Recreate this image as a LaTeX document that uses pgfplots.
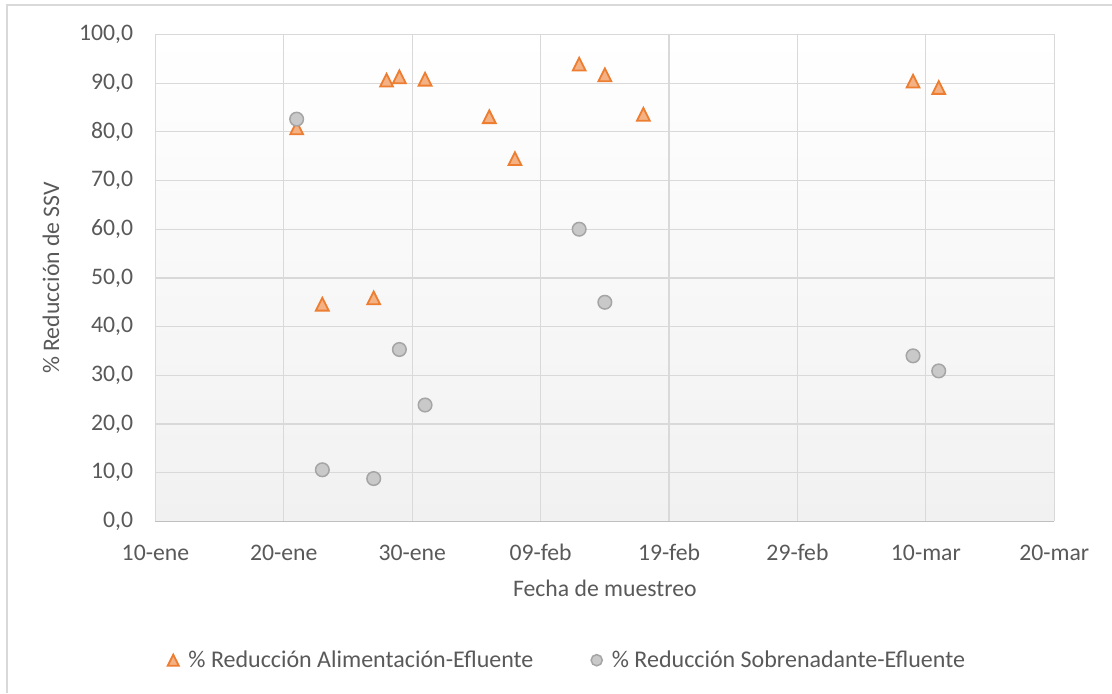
\documentclass[border=0pt]{standalone}
\usepackage{pgfplots}
\pgfplotsset{compat=1.18}
\usepackage{fontspec}
\setmainfont{Carlito}
\definecolor{txt}{HTML}{595959}
\definecolor{gridc}{HTML}{D9D9D9}
\definecolor{axl}{HTML}{BFBFBF}
\definecolor{orng}{HTML}{ED7D31}
\definecolor{orngfill}{HTML}{F4B183}
\definecolor{gryline}{HTML}{A5A5A5}
\definecolor{gryfill}{HTML}{C9C9C9}
\definecolor{bgbot}{HTML}{F1F1F1}
\newcommand\cf{\fontsize{11.85}{14}\selectfont}
\newcommand\lf{\fontsize{12}{14}\selectfont}
\pgfdeclareplotmark{xltri}{%
  \pgfpathmoveto{\pgfqpoint{0pt}{\pgfplotmarksize}}%
  \pgfpathlineto{\pgfqpoint{-\pgfplotmarksize}{-\pgfplotmarksize}}%
  \pgfpathlineto{\pgfqpoint{\pgfplotmarksize}{-\pgfplotmarksize}}%
  \pgfpathclose
  \pgfusepathqfillstroke}
\begin{document}
\begin{tikzpicture}
\useasboundingbox (0,0) rectangle (556pt,346.5pt);
\draw[gridc, line width=1pt] (3.5pt,0) -- (3.5pt,344pt) -- (556pt,344pt);
\begin{axis}[
  at={(77.7pt,85.8pt)}, anchor=south west,
  scale only axis, width=449.45pt, height=243.5pt,
  xmin=10, xmax=80, ymin=0, ymax=100,
  xtick={10,20,...,80},
  xticklabels={10-ene,20-ene,30-ene,09-feb,19-feb,29-feb,10-mar,20-mar},
  ytick={0,10,...,100},
  yticklabels={{0,0},{10,0},{20,0},{30,0},{40,0},{50,0},{60,0},{70,0},{80,0},{90,0},{100,0}},
  grid=major, major grid style={draw=gridc, line width=0.6pt},
  axis x line*=bottom, axis y line*=left,
  x axis line style={draw=axl, line width=0.75pt, -},
  y axis line style={draw=none},
  major tick length=0pt,
  axis background/.style={top color=white, bottom color=bgbot},
  tick label style={font=\cf, text=txt},
  xticklabel style={anchor=base, yshift=-19.3pt, inner sep=0pt},
  yticklabel style={anchor=east, xshift=-11pt, inner sep=0pt},
  xlabel={Fecha de muestreo},
  ylabel={\% Reducción de SSV},
  xlabel style={at={(axis description cs:0.5,-0.1532)}, anchor=base, inner sep=0pt, font=\cf, text=txt},
  ylabel style={at={(axis description cs:-0.107,0.5)}, anchor=base, inner sep=0pt, font=\cf, text=txt},
  legend style={at={(axis description cs:0.4625,-0.285)}, anchor=center, draw=none, fill=none,
    font=\lf, text=txt, nodes={inner xsep=4.8pt},
    /tikz/every even column/.append style={column sep=24pt}},
  legend columns=2,
  legend cell align=left,
  legend image code/.code={\draw[#1, mark size=2.8pt] plot coordinates {(0pt,0pt)};},
]
\addplot[only marks, mark=xltri, mark size=3.2pt, mark options={draw=orng, fill=orngfill, line width=0.9pt}]
  coordinates {(21,80.8) (23,44.6) (27,45.9) (28,90.6) (29,91.3) (31,90.8) (36,83.1) (38,74.5) (43,93.9) (45,91.7) (48,83.6) (69,90.4) (71,89.1)};
\addlegendentry{\% Reducción Alimentación-Efluente}
\addplot[only marks, mark=*, mark size=3.4pt, mark options={draw=gryline, fill=gryfill, line width=0.75pt}]
  coordinates {(21,82.6) (23,10.6) (27,8.8) (29,35.3) (31,23.9) (43,60.0) (45,45.0) (69,34.0) (71,30.9)};
\addlegendentry{\% Reducción Sobrenadante-Efluente}
\end{axis}
\end{tikzpicture}
\end{document}
